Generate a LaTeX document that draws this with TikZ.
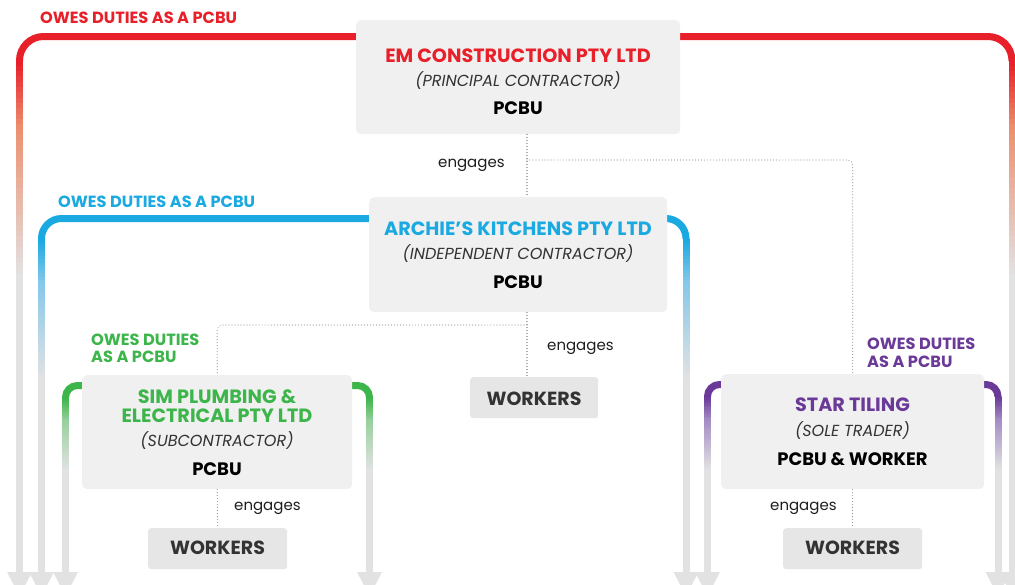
\documentclass[tikz,border=0pt]{standalone}
\usepackage{fontspec}
\setmainfont{Poppins}
\usetikzlibrary{calc}

\definecolor{emred}{HTML}{E8202A}
\definecolor{emredmid}{HTML}{EC9070}
\definecolor{akblue}{HTML}{1BA9E1}
\definecolor{akbluemid}{HTML}{86C8EA}
\definecolor{simgreen}{HTML}{3CB54A}
\definecolor{simgreenmid}{HTML}{98D09C}
\definecolor{starpurple}{HTML}{6B3A98}
\definecolor{starpurplemid}{HTML}{A48CC4}
\definecolor{boxgray}{HTML}{F0F0F0}
\definecolor{workgray}{HTML}{E6E6E6}
\definecolor{fadegray}{HTML}{E2E2E2}
\definecolor{ink}{HTML}{1E1E1E}
\definecolor{roleink}{HTML}{333333}
\definecolor{wkink}{HTML}{333333}
\definecolor{dotgray}{HTML}{9A9A9A}

% vertical leg of a duty bracket: colour fading through a lighter tint to grey,
% ending in a grey arrowhead
\newcommand\fadebar[4]{% colour, x, top y, bottom y
  \pgfmathsetmacro\seglen{((#4)-(#3))/96}
  \foreach \i in {0,...,95}{
    \pgfmathsetmacro\ya{(#3)+\seglen*\i}
    \pgfmathsetmacro\yb{(#3)+\seglen*(\i+1)+0.6}
    \pgfmathsetmacro\tt{\i/95}
    \pgfmathsetmacro\pa{max(0,min(100,100*(1-\tt/0.13)))}
    \pgfmathsetmacro\pb{max(0,min(100,100*(1-(\tt-0.13)/0.29)))}
    \fill[#1!\pa!#1mid!\pb!fadegray] ({#2-3.5},\ya) rectangle ({#2+3.5},\yb);
  }
  \fill[fadegray] ({#2-12.5},#4) -- ({#2+12.5},#4) -- (#2,{#4+24}) -- cycle;
}
% full bracket: colour, left x, right x, top y, corner radius, arrow base y
\newcommand\dutybracket[6]{%
  \draw[#1, line width=7pt, rounded corners=#5pt]
    (#2,{#4+#5+0.5}) |- (#3,#4) -- (#3,{#4+#5+0.5});
  \fadebar{#1}{#2}{#4+#5}{#6}
  \fadebar{#1}{#3}{#4+#5}{#6}
}

\begin{document}
\begin{tikzpicture}[x=1pt,y=-1pt,
  panel/.style={fill=boxgray, rounded corners=5pt, inner sep=0pt, anchor=north west},
  wbox/.style={fill=workgray, rounded corners=3pt, inner sep=0pt, anchor=north west},
  title/.style={anchor=base, inner sep=0pt, font=\bfseries\fontsize{19.2}{22}\selectfont},
  role/.style={anchor=base, inner sep=0pt, text=roleink, font=\itshape\fontsize{16}{18}\selectfont},
  pcbu/.style={anchor=base, inner sep=0pt, text=black, font=\bfseries\fontsize{18}{21}\selectfont},
  wtext/.style={anchor=base, inner sep=0pt, text=wkink, font=\bfseries\fontsize{19}{22}\selectfont},
  duty/.style={anchor=base west, inner sep=0pt, font=\bfseries\fontsize{16.2}{19}\selectfont},
  eng/.style={anchor=base west, inner sep=0pt, text=ink, font=\fontsize{15}{18}\selectfont},
  dotline/.style={draw=dotgray, line width=1.2pt, dash pattern=on 0.01pt off 3pt,
    line cap=round, rounded corners=5pt}]

\clip (0,0) rectangle (1015,584);
\fill[white] (0,0) rectangle (1015,584);

% duty brackets
\dutybracket{emred}{19.5}{1012}{36.5}{24}{572}
\dutybracket{akblue}{41.5}{686}{218.5}{20}{572}
\dutybracket{simgreen}{65.5}{369.5}{385.5}{12}{572}
\dutybracket{starpurple}{707.5}{998}{384.5}{12}{572}

% organisation panels
\node[panel, minimum width=324pt, minimum height=114pt] (em) at (356,20) {};
\node[panel, minimum width=298pt, minimum height=115pt] (archie) at (369,197) {};
\node[panel, minimum width=270pt, minimum height=114pt] (sim) at (82,375) {};
\node[panel, minimum width=263pt, minimum height=115pt] (star) at (721,374) {};

% worker boxes
\node[wbox, minimum width=128pt, minimum height=41pt] (wka) at (470,377) {};
\node[wbox, minimum width=139pt, minimum height=41pt] (wks) at (148,528) {};
\node[wbox, minimum width=139pt, minimum height=41pt] (wkt) at (783,528) {};

% engagement links
\coordinate (spine) at (527,0);
\coordinate (split1) at (527,160);
\coordinate (split2) at (527,325);
\draw[dotline] (em.south -| spine) -- (archie.north -| spine);
\draw[dotline] (split1) -| (star.north);
\draw[dotline] (archie.south -| spine) -- (wka.north -| spine);
\draw[dotline] (split2) -| (sim.north);
\draw[dotline] (sim.south) -- (wks.north);
\draw[dotline] (star.south) -- (wkt.north);

% panel texts
\node[title, text=emred] (emname) at (518,62) {EM CONSTRUCTION PTY LTD};
\node[role] (emrole) at (518,86) {(PRINCIPAL CONTRACTOR)};
\node[pcbu] (emkind) at (518,114) {PCBU};

\node[title, text=akblue] (akname) at (518,235) {ARCHIE’S KITCHENS PTY LTD};
\node[role] (akrole) at (518,259) {(INDEPENDENT CONTRACTOR)};
\node[pcbu] (akkind) at (518,288) {PCBU};

\node[title, text=simgreen] (simname1) at (217,403) {SIM PLUMBING \&};
\node[title, text=simgreen] (simname2) at (217,422) {ELECTRICAL PTY LTD};
\node[role] (simrole) at (217,446) {(SUBCONTRACTOR)};
\node[pcbu] (simkind) at (217,475) {PCBU};

\node[title, text=starpurple] (starname) at (852.5,411) {STAR TILING};
\node[role] (starrole) at (852.5,436) {(SOLE TRADER)};
\node[pcbu] (starkind) at (852.5,465) {PCBU \& WORKER};

\node[wtext] (wkatext) at (534,405) {WORKERS};
\node[wtext] (wkstext) at (217.5,554) {WORKERS};
\node[wtext] (wkttext) at (852.5,554) {WORKERS};

% engagement labels
\node[eng] (eng1) at (438,167) {engages};
\node[eng] (eng2) at (547,350) {engages};
\node[eng] (eng3) at (234,510) {engages};
\node[eng] (eng4) at (770,510) {engages};

% duty labels
\node[duty, text=emred] (dutyem) at (40,23) {OWES DUTIES AS A PCBU};
\node[duty, text=akblue] (dutyak) at (58,207) {OWES DUTIES AS A PCBU};
\node[duty, text=simgreen] (dutysim1) at (91,345) {OWES DUTIES};
\node[duty, text=simgreen] (dutysim2) at (91,362) {AS A PCBU};
\node[duty, text=starpurple] (dutystar1) at (867,349) {OWES DUTIES};
\node[duty, text=starpurple] (dutystar2) at (867,367) {AS A PCBU};
\end{tikzpicture}
\end{document}
